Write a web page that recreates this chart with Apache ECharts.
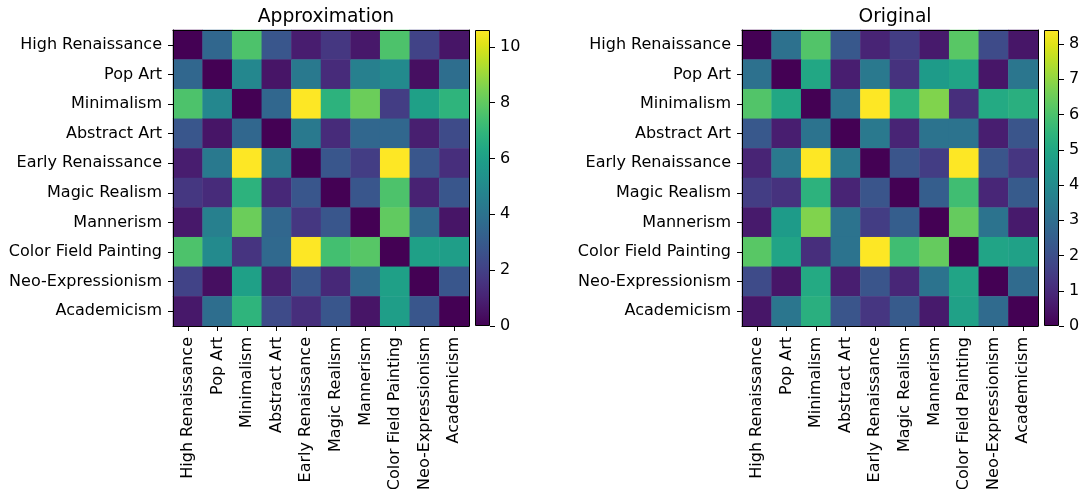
<!DOCTYPE html>
<html>
<head>
<meta charset="utf-8">
<script src="https://cdn.jsdelivr.net/npm/echarts@6/dist/echarts.min.js"></script>
<style>
  html, body { margin: 0; padding: 0; background: #fff; }
  #chart { width: 1081px; height: 489px; }
</style>
</head>
<body>
<div id="chart"></div>
<script>
const styles = ['High Renaissance', 'Pop Art', 'Minimalism', 'Abstract Art', 'Early Renaissance',
  'Magic Realism', 'Mannerism', 'Color Field Painting', 'Neo-Expressionism', 'Academicism'];

// left panel
const approxValues = [
  [0.0, 3.5, 7.6, 2.8, 0.85, 1.7, 0.7, 7.6, 2.1, 0.6],
  [3.5, 0.0, 4.9, 0.6, 4.3, 1.3, 4.6, 5.0, 0.4, 3.8],
  [7.6, 4.9, 0.0, 3.5, 10.6, 6.8, 8.2, 1.9, 6.0, 6.9],
  [2.8, 0.6, 3.5, 0.0, 4.3, 1.3, 3.5, 3.5, 0.9, 2.4],
  [0.85, 4.3, 10.6, 4.3, 0.0, 2.8, 1.9, 10.6, 2.8, 1.4],
  [1.7, 1.3, 6.8, 1.2, 2.8, 0.0, 2.8, 7.6, 1.0, 2.8],
  [0.7, 4.6, 8.2, 3.5, 1.7, 2.8, 0.0, 8.0, 3.6, 0.6],
  [7.6, 5.0, 1.6, 3.6, 10.6, 7.4, 7.8, 0.0, 6.0, 5.9],
  [2.1, 0.4, 6.0, 0.9, 2.8, 1.2, 3.6, 6.0, 0.0, 2.8],
  [0.7, 3.8, 6.9, 2.4, 1.4, 2.8, 0.6, 5.9, 2.8, 0.0]
];

// right panel
const origValues = [
  [0.0, 3.1, 6.1, 2.3, 0.85, 1.5, 0.6, 6.2, 1.9, 0.5],
  [3.1, 0.0, 5.0, 0.7, 3.4, 1.2, 4.6, 4.9, 0.5, 3.3],
  [6.1, 5.0, 0.0, 3.2, 8.4, 5.4, 6.8, 1.1, 5.1, 5.3],
  [2.3, 0.7, 3.2, 0.0, 3.4, 0.85, 3.2, 3.2, 0.7, 2.2],
  [0.85, 3.4, 8.4, 3.4, 0.0, 2.2, 1.5, 8.4, 2.2, 1.3],
  [1.5, 1.2, 5.4, 0.85, 2.2, 0.0, 2.5, 5.8, 0.9, 2.4],
  [0.6, 4.6, 6.8, 3.2, 1.5, 2.5, 0.0, 6.4, 3.2, 0.6],
  [6.2, 4.9, 1.1, 3.2, 8.4, 5.8, 6.4, 0.0, 4.9, 4.8],
  [1.9, 0.5, 5.1, 0.7, 2.2, 0.9, 3.2, 4.9, 0.0, 2.9],
  [0.5, 3.3, 5.3, 2.2, 1.3, 2.4, 0.6, 4.8, 2.9, 0.0]
];

const approxMax = 10.6;
const origMax = 8.4;
const approxTicks = [0, 2, 4, 6, 8, 10];
const origTicks = [0, 1, 2, 3, 4, 5, 6, 7, 8];

const viridis = ['#440154', '#471365', '#482475', '#463480', '#414487', '#3b528b', '#355f8d',
  '#2f6c8e', '#2a788e', '#25848e', '#21918c', '#1e9c89', '#22a884', '#2fb47c', '#44bf70',
  '#5ec962', '#7ad151', '#9bd93c', '#bddf26', '#dfe318', '#fde725'];

const FONT = 'DejaVu Sans';

const toCells = (m) => {
  const out = [];
  m.forEach((row, i) => row.forEach((v, j) => out.push([j, i, v])));
  return out;
};

const gradient = new echarts.graphic.LinearGradient(0, 1, 0, 0,
  viridis.map((c, i) => ({ offset: i / (viridis.length - 1), color: c })));

const labelStyle = { color: '#000', fontFamily: FONT, fontSize: 16 };
const line = { show: true, lineStyle: { color: '#000', width: 1 } };
const tick = { show: true, alignWithLabel: true, length: 5, lineStyle: { color: '#000' } };

// category axes for one heatmap (bottom/left with ticks, top/right just the frame)
const heatAxes = (g) => ({
  x: [
    {
      type: 'category', gridIndex: g, data: styles, position: 'bottom', z: 5,
      axisLine: line, axisTick: tick,
      axisLabel: { ...labelStyle, rotate: 90, margin: 11, interval: 0 },
      splitLine: { show: false }
    },
    {
      type: 'category', gridIndex: g, data: styles, position: 'top', z: 5,
      axisLine: line, axisTick: { show: false }, axisLabel: { show: false }
    }
  ],
  y: [
    {
      type: 'category', gridIndex: g, data: styles, inverse: true, position: 'left', z: 5,
      axisLine: line, axisTick: tick,
      axisLabel: { ...labelStyle, margin: 11, interval: 0 },
      splitLine: { show: false }
    },
    {
      type: 'category', gridIndex: g, data: styles, inverse: true, position: 'right', z: 5,
      axisLine: line, axisTick: { show: false }, axisLabel: { show: false }
    }
  ]
});

const barAxes = (g, max, ticks) => ({
  x: [{ type: 'category', gridIndex: g, data: [''], show: false }],
  y: [{
    type: 'value', gridIndex: g, min: 0, max: max, position: 'right',
    axisLine: { show: false },
    axisTick: { show: true, length: 5, customValues: ticks, lineStyle: { color: '#000' } },
    axisLabel: { ...labelStyle, margin: 10, customValues: ticks },
    splitLine: { show: false }
  }]
});

const a0 = heatAxes(0), a1 = barAxes(1, approxMax, approxTicks);
const a2 = heatAxes(2), a3 = barAxes(3, origMax, origTicks);

const xAxes = [...a0.x, ...a1.x, ...a2.x, ...a3.x];
const yAxes = [...a0.y, ...a1.y, ...a2.y, ...a3.y];
// axis indices: heat0 x 0,1 / bar1 x 2 / heat2 x 3,4 / bar3 x 5 (same for y)

const titleStyle = { fontFamily: FONT, fontSize: 18.7, fontWeight: 'normal', color: '#000' };

// fixed boxes, no auto shrinking for the long labels
const box = (left, width) => ({ left, top: 30, width, height: 296, outerBoundsMode: 'none', containLabel: false });

const option = {
  animation: false,
  backgroundColor: '#fff',
  title: [
    { text: 'Approximation', left: 321, top: 3, textAlign: 'center', textStyle: titleStyle },
    { text: 'Original', left: 890, top: 3, textAlign: 'center', textStyle: titleStyle }
  ],
  grid: [box(173, 296), box(475, 15), box(742, 296), box(1044, 15)],
  xAxis: xAxes,
  yAxis: yAxes,
  visualMap: [
    { show: false, seriesIndex: 0, dimension: 2, min: 0, max: approxMax, inRange: { color: viridis } },
    { show: false, seriesIndex: 2, dimension: 2, min: 0, max: origMax, inRange: { color: viridis } }
  ],
  series: [
    { type: 'heatmap', xAxisIndex: 0, yAxisIndex: 0, data: toCells(approxValues), itemStyle: { borderWidth: 0 } },
    { type: 'bar', xAxisIndex: 2, yAxisIndex: 2, data: [approxMax], barWidth: '100%',
      itemStyle: { color: gradient, borderColor: '#000', borderWidth: 1 } },
    { type: 'heatmap', xAxisIndex: 3, yAxisIndex: 3, data: toCells(origValues), itemStyle: { borderWidth: 0 } },
    { type: 'bar', xAxisIndex: 5, yAxisIndex: 5, data: [origMax], barWidth: '100%',
      itemStyle: { color: gradient, borderColor: '#000', borderWidth: 1 } }
  ]
};

const myChart = echarts.init(document.getElementById('chart'), null, { renderer: 'canvas' });
myChart.setOption(option);
</script>
</body>
</html>
